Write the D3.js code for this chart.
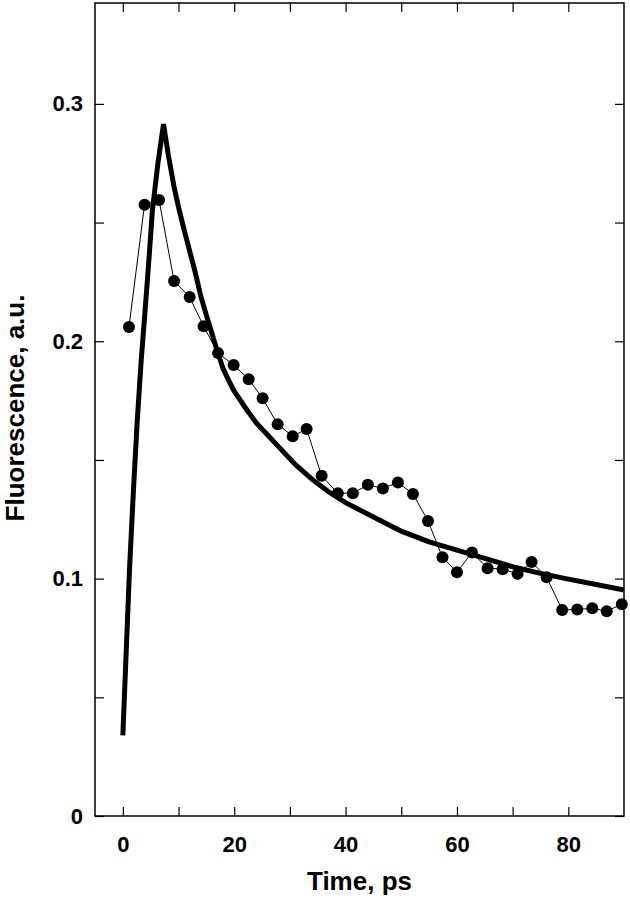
<!DOCTYPE html>
<html>
  <head>
    <meta http-equiv="Content-Type" content="text/html;charset=utf-8"/>
    <title>Fluorescence decay</title>
    <script src="https://d3js.org/d3.v7.min.js"></script>
    <style>
      body { margin: 0; background: #fff; }
      text { font-family: "Liberation Sans", Arial, Helvetica, sans-serif; font-weight: bold; fill: #000; }
    </style>
  </head>
  <body>
    <script type="text/javascript">
        // measured points (ps, a.u.)
        const timePs = [1.1, 3.9, 6.5, 9.2, 12.0, 14.5, 17.1, 19.9, 22.6, 25.1, 27.8, 30.5, 33.0,
                        35.7, 38.6, 41.3, 44.0, 46.7, 49.4, 52.1, 54.8, 57.4, 60.0, 62.7, 65.5,
                        68.2, 70.9, 73.4, 76.1, 78.9, 81.6, 84.3, 86.9, 89.6]
        const fluor = [0.206, 0.2575, 0.2595, 0.2254, 0.2186, 0.2063, 0.195, 0.190, 0.184, 0.176,
                       0.165, 0.160, 0.163, 0.1433, 0.136, 0.136, 0.1395, 0.138, 0.1405, 0.1357,
                       0.1243, 0.109, 0.1027, 0.111, 0.1044, 0.104, 0.102, 0.107, 0.1006,
                       0.0868, 0.087, 0.0875, 0.0863, 0.0892]

        // fitted curve
        const fitTime = [0, 0.6, 1.2, 1.9, 2.6, 3.3, 4.0, 4.7, 5.3, 6.3, 7.3, 8.2, 9.2, 10, 11, 12,
                         13, 14, 15, 16, 17, 18, 19, 20, 22, 24, 26, 28, 31, 34, 37, 40, 45, 50,
                         55, 60, 65, 70, 75, 80, 85, 90]
        const fitValue = [0.034, 0.069, 0.104, 0.137, 0.167, 0.192, 0.213, 0.235, 0.255, 0.275,
                          0.2915, 0.278, 0.265, 0.2565, 0.247, 0.238, 0.229, 0.219, 0.211, 0.2033,
                          0.1955, 0.1885, 0.1835, 0.179, 0.172, 0.1655, 0.1605, 0.1555, 0.148,
                          0.1418, 0.1365, 0.132, 0.126, 0.120, 0.1155, 0.112, 0.1085, 0.105,
                          0.1022, 0.0998, 0.0975, 0.0952]

        const xTicks = [0, 10, 20, 30, 40, 50, 60, 70, 80]
        const xLabels = [0, 20, 40, 60, 80]
        const yTicks = [0, 0.05, 0.1, 0.15, 0.2, 0.25, 0.3]
        const yLabels = [0, 0.1, 0.2, 0.3]

        const width = 630,
              height = 900
        const margin = {top: 3, right: 6, bottom: 84, left: 95}

        const svg = d3.select("body").append("svg")
            .attr("width", width)
            .attr("height", height)

        const x = d3.scaleLinear().domain([-5, 90]).range([margin.left, width - margin.right])
        const y = d3.scaleLinear().domain([0, 0.3425]).range([height - margin.bottom, margin.top])

        const fmtX = d => xLabels.includes(d) ? d : ""
        const fmtY = d => yLabels.some(v => Math.abs(v - d) < 1e-9) ? (d === 0 ? "0" : d3.format(".1f")(d)) : ""

        // axes with inward ticks
        svg.append("g")
            .attr("transform", "translate(0," + y(0) + ")")
            .call(d3.axisBottom(x).tickValues(xTicks).tickFormat(fmtX).tickSize(-9).tickPadding(20))
        svg.append("g")
            .attr("transform", "translate(0," + margin.top + ")")
            .call(d3.axisTop(x).tickValues(xTicks).tickFormat("").tickSize(-9))
        svg.append("g")
            .attr("transform", "translate(" + x(-5) + ",0)")
            .call(d3.axisLeft(y).tickValues(yTicks).tickFormat(fmtY).tickSize(-9).tickPadding(12))
        svg.append("g")
            .attr("transform", "translate(" + x(90) + ",0)")
            .call(d3.axisRight(y).tickValues(yTicks).tickFormat("").tickSize(-9))

        svg.selectAll(".domain").remove()
        svg.selectAll(".tick line").attr("stroke", "#000").attr("stroke-width", 1.2)
        svg.selectAll(".tick text").style("font-size", "22px").attr("fill", "#000")

        // frame
        svg.append("rect")
            .attr("x", x(-5))
            .attr("y", y(0.3425))
            .attr("width", x(90) - x(-5))
            .attr("height", y(0) - y(0.3425))
            .attr("fill", "none")
            .attr("stroke", "#000")
            .attr("stroke-width", 1.5)

        // fit curve
        const fitLine = d3.line()
            .x((d, i) => x(fitTime[i]))
            .y(d => y(d))
        svg.append("path")
            .datum(fitValue)
            .attr("d", fitLine)
            .attr("fill", "none")
            .attr("stroke", "#000")
            .attr("stroke-width", 5)
            .attr("stroke-linejoin", "miter")

        // data line and markers
        const dataLine = d3.line()
            .x((d, i) => x(timePs[i]))
            .y(d => y(d))
        svg.append("path")
            .datum(fluor)
            .attr("d", dataLine)
            .attr("fill", "none")
            .attr("stroke", "#000")
            .attr("stroke-width", 1)

        svg.append("g")
            .selectAll("circle")
            .data(fluor)
            .enter()
            .append("circle")
            .attr("cx", (d, i) => x(timePs[i]))
            .attr("cy", d => y(d))
            .attr("r", 6)
            .attr("fill", "#000")

        // titles
        svg.append("text")
            .attr("x", (x(-5) + x(90)) / 2)
            .attr("y", 890)
            .attr("text-anchor", "middle")
            .style("font-size", "26px")
            .text("Time, ps")

        svg.append("text")
            .attr("transform", "translate(24," + 408 + ") rotate(-90)")
            .attr("text-anchor", "middle")
            .style("font-size", "26px")
            .text("Fluorescence, a.u.")
    </script>
  </body>
</html>
